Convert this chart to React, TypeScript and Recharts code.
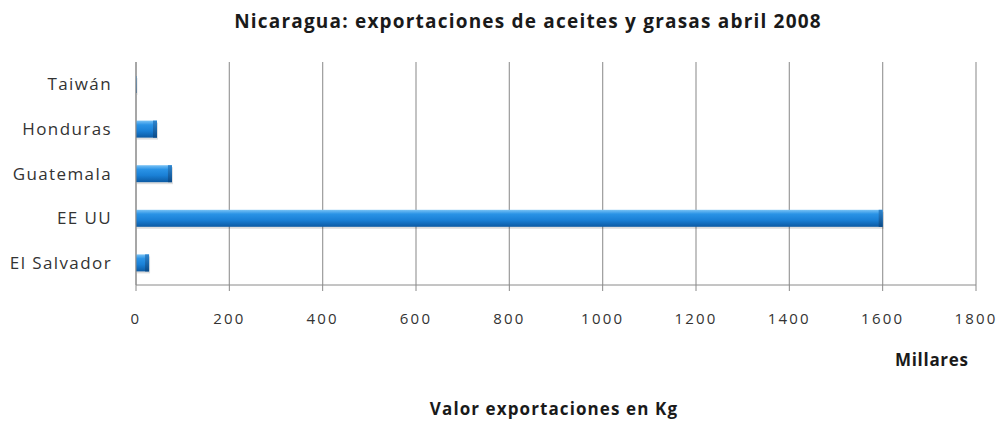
import React from "react";
import { BarChart, Bar, XAxis, YAxis, CartesianGrid } from "recharts";

const countries = ["Taiwán", "Honduras", "Guatemala", "EE UU", "El Salvador"];
const values = [1, 45, 77, 1600, 28];
const xTicks = [0, 200, 400, 600, 800, 1000, 1200, 1400, 1600, 1800];

const data = countries.map((c, i) => ({ name: c, value: values[i] }));

const FONT = "'Open Sans', sans-serif";

const BarShape = (props: any) => {
  const { x, y, width, height } = props;
  if (!width || width <= 0) return null;
  const cap = Math.min(4, width);
  return (
    <g>
      <rect x={x + 1} y={y + 2} width={width} height={height} fill="rgba(0,0,0,0.13)" />
      <rect x={x} y={y} width={width} height={height} fill="url(#barGrad)" />
      <rect x={x + width - cap} y={y} width={cap} height={height} fill="url(#capGrad)" />
    </g>
  );
};

export default function App() {
  return (
    <div style={{ position: "absolute", left: 0, top: 0, width: 998, height: 421, background: "#fff", fontFamily: FONT }}>
      <BarChart
        width={998}
        height={421}
        data={data}
        layout="vertical"
        margin={{ top: 62, right: 22, bottom: 106, left: 0 }}
        barCategoryGap={15}
      >
        <defs>
          <linearGradient id="barGrad" x1="0" y1="0" x2="0" y2="1">
            <stop offset="0" stopColor="#78c2f5" />
            <stop offset="0.25" stopColor="#2a93e6" />
            <stop offset="0.6" stopColor="#1a80d6" />
            <stop offset="1" stopColor="#0c5aa3" />
          </linearGradient>
          <linearGradient id="capGrad" x1="0" y1="0" x2="0" y2="1">
            <stop offset="0" stopColor="#2f86cf" />
            <stop offset="1" stopColor="#0a4a88" />
          </linearGradient>
        </defs>
        <XAxis
          type="number"
          domain={[0, 1800]}
          ticks={xTicks}
          interval={0}
          height={30}
          stroke="#8a8a8a"
          tickSize={6}
          tickMargin={22}
          tick={{ fill: "#333", fontSize: 15, fontFamily: FONT, letterSpacing: 2.2 }}
        />
        <YAxis
          type="category"
          dataKey="name"
          width={136}
          stroke="#8a8a8a"
          axisLine={true}
          tickLine={false}
          tickSize={6}
          tickMargin={18}
          tick={{ fill: "#333", fontSize: 17, fontFamily: FONT, letterSpacing: 1.4 }}
        />
        <Bar dataKey="value" barSize={17} shape={<BarShape />} isAnimationActive={false} />
        <CartesianGrid horizontal={false} vertical stroke="#8a8a8a" strokeOpacity={0.85} strokeWidth={1.2} />
      </BarChart>
      <div style={{ position: "absolute", left: 0, width: 998, top: 8, textAlign: "center", paddingLeft: 58, boxSizing: "border-box", fontSize: 19, fontWeight: 700, color: "#1a1a1a", letterSpacing: 1.2, whiteSpace: "nowrap" }}>
        Nicaragua: exportaciones de aceites y grasas abril 2008
      </div>
      <div style={{ position: "absolute", left: 895, top: 348, fontSize: 17, fontWeight: 700, color: "#1a1a1a", letterSpacing: 0.7, whiteSpace: "nowrap" }}>
        Millares
      </div>
      <div style={{ position: "absolute", left: 0, width: 998, top: 397, textAlign: "center", paddingLeft: 110, boxSizing: "border-box", fontSize: 17, fontWeight: 700, color: "#1a1a1a", letterSpacing: 1.1, whiteSpace: "nowrap" }}>
        Valor exportaciones en Kg
      </div>
    </div>
  );
}
